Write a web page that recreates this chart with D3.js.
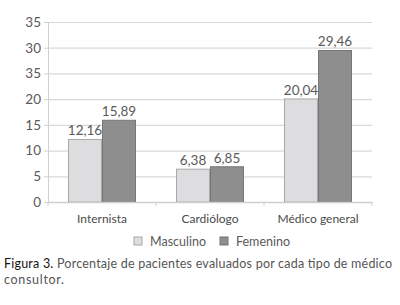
<!DOCTYPE html>
<html>
<head>
<meta charset="utf-8">
<script src="https://cdn.jsdelivr.net/npm/d3@7"></script>
<style>
  body { margin: 0; background: #fff; }
  svg text { font-family: Lato, "Open Sans", sans-serif; }
</style>
</head>
<body>
<div id="chart"></div>
<script>
// datos
const categorias = ['Internista', 'Cardiólogo', 'Médico general'];
const series = ['Masculino', 'Femenino'];
const masculino = [12.16, 6.38, 20.04];
const femenino = [15.89, 6.85, 29.46];
const etiquetas = ['12,16', '6,38', '20,04'];
const etiquetasFem = ['15,89', '6,85', '29,46'];
const ticks = [0, 5, 10, 15, 20, 25, 30, 35];
const tickLabels = ['0', '5', '10', '15', '20', '35', '30', '35'];

const width = 400, height = 305;
const margin = { top: 22, right: 28, bottom: 103, left: 48 };
const colores = { Masculino: '#dddde0', Femenino: '#8e8e8e' };
const bordes = { Masculino: '#a9a9a9', Femenino: '#767676' };

const svg = d3.select('#chart').append('svg')
    .attr('width', width)
    .attr('height', height);

const g = svg.append('g')
    .attr('transform', `translate(${margin.left},${margin.top})`);

const w = width - margin.left - margin.right;
const h = height - margin.top - margin.bottom;

const x0 = d3.scaleBand().domain(categorias).range([0, w]).paddingInner(0).paddingOuter(0);
const x1 = d3.scaleBand().domain(series).range([20, x0.bandwidth() - 20]);
const y = d3.scaleLinear().domain([0, 35]).range([h, 0]);

// cuadrícula
g.selectAll('.grid')
    .data(ticks.slice(1))
    .enter()
    .append('line')
    .attr('class', 'grid')
    .attr('x1', 0)
    .attr('x2', w)
    .attr('y1', d => y(d) + 0.5)
    .attr('y2', d => y(d) + 0.5)
    .style('stroke', '#d8d8d8')
    .style('stroke-width', 1.2);

// eje Y
const yAxis = g.append('g')
    .call(d3.axisLeft(y).tickValues(ticks).tickSize(4).tickFormat((d, i) => tickLabels[i]));
yAxis.select('.domain').style('stroke', '#d0d0d0');
yAxis.selectAll('.tick line').style('stroke', '#d0d0d0');
yAxis.selectAll('.tick text')
    .attr('x', -7)
    .style('font-size', '13.5px')
    .style('fill', '#5a5a5a');

// barras
const datos = categorias.map((c, i) => ({
    cat: c,
    vals: [
        { s: 'Masculino', v: masculino[i], t: etiquetas[i] },
        { s: 'Femenino', v: femenino[i], t: etiquetasFem[i] }
    ]
}));

const grupos = g.selectAll('.grupo')
    .data(datos)
    .enter()
    .append('g')
    .attr('class', 'grupo')
    .attr('transform', d => `translate(${x0(d.cat)},0)`);

grupos.selectAll('rect')
    .data(d => d.vals)
    .enter()
    .append('rect')
    .attr('x', d => x1(d.s) + 0.5)
    .attr('y', d => y(d.v))
    .attr('width', x1.bandwidth() - 1)
    .attr('height', d => h - y(d.v))
    .style('fill', d => colores[d.s])
    .style('stroke', d => bordes[d.s])
    .style('stroke-width', 1);

grupos.selectAll('.valor')
    .data(d => d.vals)
    .enter()
    .append('text')
    .attr('class', 'valor')
    .attr('x', d => x1(d.s) + x1.bandwidth() / 2)
    .attr('y', d => y(d.v) - 4)
    .attr('text-anchor', 'middle')
    .style('font-size', '13.5px')
    .style('fill', '#5a5a5a')
    .text(d => d.t);

// eje X
const xAxis = g.append('g')
    .attr('transform', `translate(0,${h})`)
    .call(d3.axisBottom(x0).tickSize(0).tickPadding(12));
xAxis.select('.domain').style('stroke', '#cfcfcf').style('stroke-width', 1.5);
xAxis.selectAll('.tick text')
    .style('font-size', '12px')
    .style('fill', '#4a4a4a');
g.selectAll('.xtick')
    .data(d3.range(categorias.length + 1))
    .enter()
    .append('line')
    .attr('class', 'xtick')
    .attr('x1', d => d * x0.bandwidth())
    .attr('x2', d => d * x0.bandwidth())
    .attr('y1', h)
    .attr('y2', h + 4)
    .style('stroke', '#d0d0d0');

// leyenda
const leyenda = svg.append('g').attr('transform', 'translate(134,237)');
const posLeyenda = [0, 86];
series.forEach((s, i) => {
    const it = leyenda.append('g').attr('transform', `translate(${posLeyenda[i]},0)`);
    it.append('rect')
        .attr('width', 8)
        .attr('height', 8)
        .style('fill', colores[s])
        .style('stroke', bordes[s]);
    it.append('text')
        .attr('x', 16)
        .attr('y', 9)
        .style('font-size', '12.5px')
        .style('fill', '#5a5a5a')
        .text(s);
});

// pie de figura
const pie = svg.append('text')
    .attr('x', 4)
    .attr('y', 268)
    .attr('textLength', 388)
    .attr('lengthAdjust', 'spacing')
    .style('font-size', '12.5px')
    .style('fill', '#555');
pie.append('tspan').style('fill', '#111').text('Figura 3.');
pie.append('tspan').text(' Porcentaje de pacientes evaluados por cada tipo de médico');
svg.append('text')
    .attr('x', 4)
    .attr('y', 284)
    .attr('textLength', 60)
    .attr('lengthAdjust', 'spacing')
    .style('font-size', '12.5px')
    .style('fill', '#555')
    .text('consultor.');
</script>
</body>
</html>
